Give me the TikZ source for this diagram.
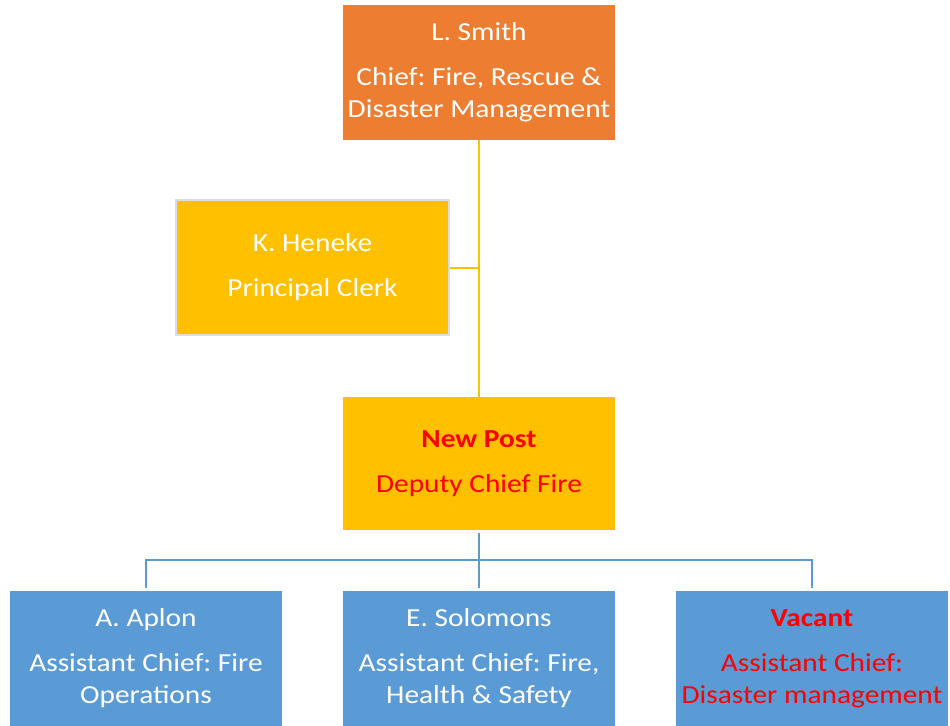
\documentclass[tikz,border=0pt]{standalone}
\usepackage{fontspec}
\setmainfont{Carlito}[FakeStretch=1.13]
\usepackage{tikz}
\frenchspacing

\definecolor{chieforange}{HTML}{ED7D31}
\definecolor{postyellow}{HTML}{FFC000}
\definecolor{staffblue}{HTML}{5B9BD5}
\definecolor{vacantred}{HTML}{FF0000}
\definecolor{clerkgrey}{HTML}{DEDEDE}

\tikzset{
  post/.style={inner sep=0pt, align=center, minimum width=204pt, minimum height=101.25pt,
    text=white, font=\fontsize{19.5}{24}\selectfont},
  yellowline/.style={draw=postyellow, line width=1.5pt},
  blueline/.style={draw=staffblue, line width=1.5pt},
}

\begin{document}
\begin{tikzpicture}[x=0.75pt,y=0.75pt,yscale=-1]
\useasboundingbox[fill=white] (0,0) rectangle (950,725);

% Text Node
\node (smith) [post, fill=chieforange] at (479,72.5) {L. Smith\\[9.75pt]Chief: Fire, Rescue \&\\Disaster Management};
% Text Node
\node (heneke) [post, fill=postyellow, draw=clerkgrey, line width=1.5pt, minimum width=205pt, minimum height=101.5pt] at (312.5,267.5) {K. Heneke\\[9.75pt]Principal Clerk};
% Text Node
\node (deputy) [post, fill=postyellow, text=vacantred, minimum height=99.75pt] at (479,463.5) {\textbf{New Post}\\[9.75pt]Deputy Chief Fire};
% Text Node
\node (aplon) [post, fill=staffblue] at (146,658.5) {A. Aplon\\[9.75pt]Assistant Chief: Fire\\Operations};
% Text Node
\node (solomons) [post, fill=staffblue] at (479,658.5) {E. Solomons\\[9.75pt]Assistant Chief: Fire,\\Health \& Safety};
% Text Node
\node (vacant) [post, fill=staffblue, text=vacantred] at (812,658.5) {\textbf{Vacant}\\[9.75pt]Assistant Chief:\\Disaster management};

% Connection
\draw [yellowline] (smith.south) -- (deputy.north);
% Connection
\draw [yellowline] (heneke.east) -- (heneke.east -| smith.south);
% Connection
\coordinate (branch) at (479,560);
\draw [blueline, shorten <=2.25pt] (deputy.south) -- (branch);
% Connection
\draw [blueline, shorten >=2.25pt] (branch) -| (aplon.north);
% Connection
\draw [blueline, shorten >=2.25pt] (branch) -| (vacant.north);
% Connection
\draw [blueline, shorten >=2.25pt] (branch) -- (solomons.north);

\end{tikzpicture}
\end{document}
